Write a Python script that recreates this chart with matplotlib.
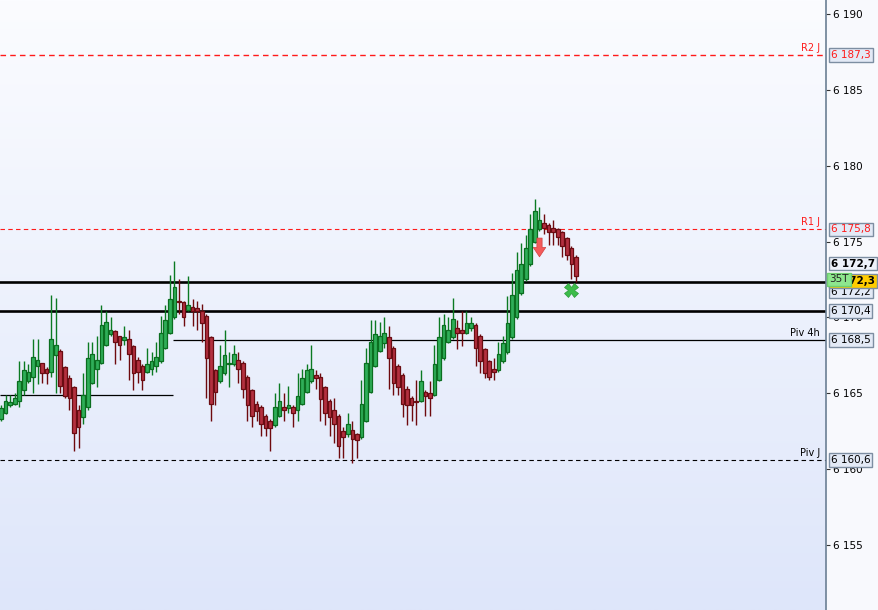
import numpy as np
import matplotlib
matplotlib.use('Agg')
import matplotlib.pyplot as plt
from matplotlib.path import Path
from matplotlib.ticker import FuncFormatter
from matplotlib.colors import LinearSegmentedColormap

# OHLC, one row per candle (left to right)
opens = [6163.3, 6163.7, 6164.2, 6164.3, 6164.5, 6165.2, 6165.8, 6166.1, 6166.8, 6167.0,
         6166.6, 6166.4, 6167.5, 6167.8, 6166.7, 6166.0, 6165.4, 6163.9, 6163.4, 6164.1,
         6165.7, 6166.6, 6167.0, 6168.2, 6168.9, 6169.1, 6168.8, 6168.5, 6168.6, 6168.1,
         6167.2, 6166.8, 6166.4, 6166.6, 6166.8, 6167.1, 6168.0, 6169.0, 6170.0, 6171.1,
         6171.0, 6170.5, 6170.7, 6170.6, 6170.4, 6170.1, 6168.7, 6166.5, 6165.8, 6166.3,
         6166.9, 6166.9, 6167.2, 6167.0, 6166.1, 6165.2, 6164.3, 6164.1, 6163.5, 6163.2,
         6162.9, 6163.5, 6164.1, 6164.0, 6164.1, 6163.9, 6164.3, 6165.1, 6165.8, 6166.2,
         6166.1, 6165.4, 6164.5, 6163.9, 6163.5, 6162.5, 6162.3, 6162.6, 6162.3, 6162.1,
         6163.2, 6165.1, 6166.8, 6167.8, 6168.3, 6168.7, 6168.0, 6166.8, 6166.2, 6165.3,
         6164.7, 6164.5, 6164.5, 6165.1, 6165.0, 6164.9, 6165.9, 6167.3, 6168.4, 6168.7,
         6169.3, 6169.2, 6169.0, 6169.3, 6169.5, 6168.8, 6167.9, 6167.1, 6166.6, 6166.5,
         6167.1, 6167.7, 6168.7, 6170.0, 6171.6, 6172.5, 6173.5, 6175.0, 6175.8, 6176.2,
         6176.1, 6175.9, 6175.8, 6175.6, 6175.2, 6174.6, 6174.0]
highs = [6164.2, 6164.9, 6164.9, 6165.0, 6167.1, 6167.1, 6166.9, 6168.6, 6168.6, 6167.0,
         6166.7, 6171.5, 6171.3, 6167.9, 6166.8, 6166.2, 6165.5, 6164.2, 6166.3, 6168.4,
         6168.4, 6168.8, 6170.8, 6170.4, 6170.0, 6169.2, 6168.8, 6169.4, 6169.2, 6168.2,
         6167.4, 6166.9, 6168.0, 6167.7, 6168.4, 6170.1, 6170.8, 6172.8, 6173.7, 6172.5,
         6171.1, 6172.7, 6171.2, 6171.1, 6170.9, 6170.2, 6168.8, 6166.6, 6168.2, 6169.2,
         6167.7, 6168.2, 6167.7, 6167.1, 6166.2, 6165.3, 6164.5, 6164.2, 6163.6, 6163.3,
         6165.0, 6165.7, 6165.0, 6165.5, 6164.2, 6166.3, 6166.6, 6166.9, 6168.2, 6166.5,
         6166.3, 6165.5, 6164.6, 6164.7, 6163.6, 6162.8, 6163.7, 6163.2, 6162.4, 6165.9,
         6168.0, 6169.8, 6169.8, 6169.7, 6170.0, 6169.4, 6168.1, 6166.9, 6166.3, 6165.5,
         6164.8, 6165.9, 6166.5, 6165.2, 6165.8, 6168.2, 6170.0, 6170.2, 6170.0, 6171.3,
         6169.8, 6170.4, 6170.4, 6170.0, 6169.6, 6168.9, 6168.0, 6167.2, 6167.3, 6168.4,
         6168.8, 6171.4, 6172.9, 6174.3, 6174.9, 6175.4, 6176.8, 6177.8, 6177.3, 6176.8,
         6176.2, 6176.4, 6175.9, 6175.7, 6175.3, 6174.7, 6174.1]
lows = [6163.2, 6163.6, 6164.1, 6164.2, 6164.1, 6164.9, 6165.7, 6165.0, 6165.6, 6165.7,
        6165.6, 6166.1, 6165.0, 6165.0, 6164.7, 6163.9, 6161.2, 6161.4, 6163.0, 6163.9,
        6165.6, 6165.4, 6166.9, 6168.1, 6168.8, 6166.9, 6167.2, 6168.2, 6165.9, 6165.2,
        6165.7, 6165.2, 6166.3, 6166.2, 6166.4, 6167.0, 6167.9, 6168.9, 6169.9, 6170.2,
        6169.4, 6170.4, 6169.4, 6169.2, 6168.4, 6164.7, 6163.2, 6164.2, 6165.7, 6166.2,
        6165.4, 6166.8, 6165.7, 6164.7, 6163.2, 6162.8, 6163.2, 6162.2, 6162.2, 6161.2,
        6162.8, 6163.4, 6163.2, 6163.7, 6162.8, 6163.2, 6164.2, 6165.0, 6165.7, 6165.3,
        6163.2, 6162.9, 6162.2, 6161.7, 6160.7, 6160.7, 6162.1, 6160.4, 6160.7, 6162.0,
        6163.1, 6165.0, 6166.7, 6167.7, 6168.0, 6165.3, 6164.9, 6164.9, 6163.4, 6162.9,
        6163.2, 6162.9, 6164.4, 6163.5, 6163.5, 6164.8, 6165.8, 6167.2, 6168.3, 6168.6,
        6167.9, 6168.1, 6168.9, 6169.1, 6166.8, 6166.3, 6166.0, 6165.9, 6165.9, 6166.4,
        6167.0, 6167.6, 6168.6, 6169.9, 6171.5, 6172.4, 6173.4, 6174.9, 6175.7, 6175.5,
        6174.8, 6174.8, 6174.8, 6174.0, 6173.8, 6172.5, 6172.3]
closes = [6164.0, 6164.5, 6164.4, 6164.7, 6165.8, 6166.5, 6166.4, 6167.4, 6167.2, 6166.3,
          6166.3, 6168.6, 6168.2, 6165.5, 6164.8, 6164.7, 6162.4, 6162.8, 6164.9, 6167.3,
          6167.6, 6167.2, 6169.5, 6169.7, 6169.2, 6168.4, 6168.2, 6168.7, 6167.6, 6166.3,
          6166.4, 6165.9, 6166.9, 6167.1, 6167.4, 6169.0, 6169.8, 6171.2, 6172.0, 6171.0,
          6170.0, 6170.8, 6170.4, 6170.4, 6169.6, 6167.3, 6164.3, 6165.1, 6166.8, 6167.5,
          6167.0, 6167.6, 6166.6, 6165.3, 6164.2, 6163.5, 6163.8, 6163.0, 6162.7, 6162.7,
          6164.1, 6164.5, 6163.9, 6164.2, 6163.7, 6164.8, 6166.0, 6166.5, 6166.6, 6166.0,
          6164.6, 6163.7, 6163.4, 6163.0, 6161.5, 6162.1, 6163.0, 6162.0, 6161.9, 6164.3,
          6167.0, 6168.4, 6168.9, 6168.8, 6169.0, 6167.3, 6165.7, 6165.4, 6164.3, 6164.2,
          6164.2, 6164.4, 6165.8, 6164.8, 6164.7, 6166.9, 6168.7, 6169.5, 6169.2, 6169.9,
          6169.0, 6169.0, 6169.6, 6169.6, 6168.0, 6167.1, 6166.3, 6166.1, 6166.4, 6167.6,
          6168.3, 6169.6, 6171.5, 6173.1, 6173.5, 6174.6, 6175.8, 6177.0, 6176.4, 6175.9,
          6175.6, 6175.6, 6175.3, 6174.7, 6174.1, 6173.5, 6172.7]

# horizontal levels
r2_j = 6187.3
r1_j = 6175.8
piv_j = 6160.6
piv_4h = 6168.5
piv_4h_prev = 6164.9
level_hi = 6172.3
level_lo = 6170.4
piv_4h_start = 37.7     # candle index where the 4h pivot changes
last_price = 6172.7
bid_price = 6172.3
ask_price = 6172.2

# signals
sell_idx, sell_price = 118, 6174.6
cross_idx, cross_price = 125, 6171.8

yticks = [6155, 6160, 6165, 6170, 6175, 6180, 6185, 6190]


def fmt(v, dec=1):
    s = f"{v:.{dec}f}".replace('.', ',')
    return s[0] + ' ' + s[1:]


n = len(opens)
x = np.arange(n)
o = np.array(opens); h = np.array(highs); l = np.array(lows); c = np.array(closes)
up = c >= o

fig = plt.figure(figsize=(8.79, 6.10), dpi=100, facecolor='#f8f9fd')
ax = fig.add_axes([0, 0, 826 / 879, 1])

px = 4.563  # pixels per candle
x0 = -1 / px
x1 = x0 + 826 / px
ax.set_xlim(x0, x1)
ax.set_ylim(6150.71, 6190.92)

# background gradient
cmap = LinearSegmentedColormap.from_list('bg', ['#fbfcff', '#dee6fa'])
grad = np.linspace(0, 1, 256).reshape(-1, 1)
ax.imshow(grad, aspect='auto', cmap=cmap, extent=[x0, x1, 6150.71, 6190.92],
          origin='upper', zorder=0)

# levels
ax.axhline(r2_j, color='#ff1a1a', lw=1, ls=(0, (4, 3)), zorder=1)
ax.axhline(r1_j, color='#ff1a1a', lw=0.8, ls=(0, (4, 3)), zorder=1)
ax.axhline(piv_j, color='black', lw=0.8, ls=(0, (4, 3)), zorder=1)
ax.axhline(level_hi, color='black', lw=1.9, zorder=1)
ax.axhline(level_lo, color='black', lw=1.9, zorder=1)
ax.hlines(piv_4h, piv_4h_start, x1, color='black', lw=0.9, zorder=1)
ax.hlines(piv_4h_prev, x0, piv_4h_start, color='black', lw=0.9, zorder=1)

tr = ax.get_yaxis_transform()
ax.text(0.993, r2_j + 0.15, 'R2 J', transform=tr, ha='right', va='bottom', color='#ff1a1a', fontsize=7)
ax.text(0.993, r1_j + 0.15, 'R1 J', transform=tr, ha='right', va='bottom', color='#ff1a1a', fontsize=7)
ax.text(0.993, piv_4h + 0.15, 'Piv 4h', transform=tr, ha='right', va='bottom', color='black', fontsize=7)
ax.text(0.993, piv_j + 0.15, 'Piv J', transform=tr, ha='right', va='bottom', color='black', fontsize=7)

# candles
wick_col = np.where(up, '#0b7a22', '#6e0a0e')
ax.vlines(x, l, h, colors=wick_col, lw=1.0, zorder=2)
body_bottom = np.minimum(o, c)
body_h = np.maximum(np.abs(c - o), 0.08)
ax.bar(x[up], body_h[up], bottom=body_bottom[up], width=0.8,
       color='#2fae58', edgecolor='#0b6e20', lw=0.9, zorder=3)
ax.bar(x[~up], body_h[~up], bottom=body_bottom[~up], width=0.8,
       color='#b3303f', edgecolor='#6a0c12', lw=0.9, zorder=3)

# signals
arrow = Path([(-0.25, 1), (0.25, 1), (0.25, 0.1), (0.6, 0.1), (0, -0.8), (-0.6, 0.1),
              (-0.25, 0.1), (-0.25, 1)], closed=True)
ax.plot(sell_idx, sell_price, marker=arrow, ms=15, color='#f45a5a',
        mec='#d04040', mew=0.5, zorder=5)
ax.plot(cross_idx, cross_price, marker='X', ms=10, color='#3cbc4a',
        mec='#2a9a38', mew=0.5, zorder=5)

# right axis
for side in ['left', 'top', 'bottom']:
    ax.spines[side].set_visible(False)
ax.spines['right'].set_color('#6b7f94')
ax.spines['right'].set_linewidth(1.2)
ax.set_xticks([])
ax.yaxis.tick_right()
ax.set_yticks(yticks)
ax.yaxis.set_major_formatter(FuncFormatter(lambda v, p: fmt(v, 0)))
ax.tick_params(axis='y', length=3, width=0.8, color='#333333', labelsize=7.5, pad=2)

box = dict(boxstyle='square,pad=0.18', fc='#e3eaf6', ec='#7d8ea2', lw=1)


def tag(val, txt, color='black', weight='normal', fc=None, xpos=1.006, dy=0.0, z=6):
    b = dict(box)
    if fc:
        b['fc'] = fc
    ax.text(xpos, val + dy, txt, transform=tr, ha='left', va='center', color=color,
            fontsize=7.5, fontweight=weight, bbox=b, clip_on=False, zorder=z)


tag(r2_j, fmt(r2_j), color='#ff1a1a')
tag(r1_j, fmt(r1_j), color='#ff1a1a')
tag(piv_4h, fmt(piv_4h))
tag(piv_j, fmt(piv_j))
tag(level_lo, fmt(level_lo))
tag(ask_price, fmt(ask_price), dy=-0.5, z=6)
tag(last_price, fmt(last_price), weight='bold', fc='#eef2fa', dy=0.85, z=7)
tag(bid_price, fmt(bid_price), weight='bold', fc='#ffcc00', dy=0.1, z=8)
ax.text(1.004, bid_price + 0.2, '35T', transform=tr, ha='left', va='center', color='#222222',
        fontsize=7.5, bbox=dict(boxstyle='square,pad=0.18', fc='#8ee68e', ec='#6fcf6f', lw=1),
        clip_on=False, zorder=9)

fig.savefig('out.png', dpi=100, facecolor=fig.get_facecolor())
